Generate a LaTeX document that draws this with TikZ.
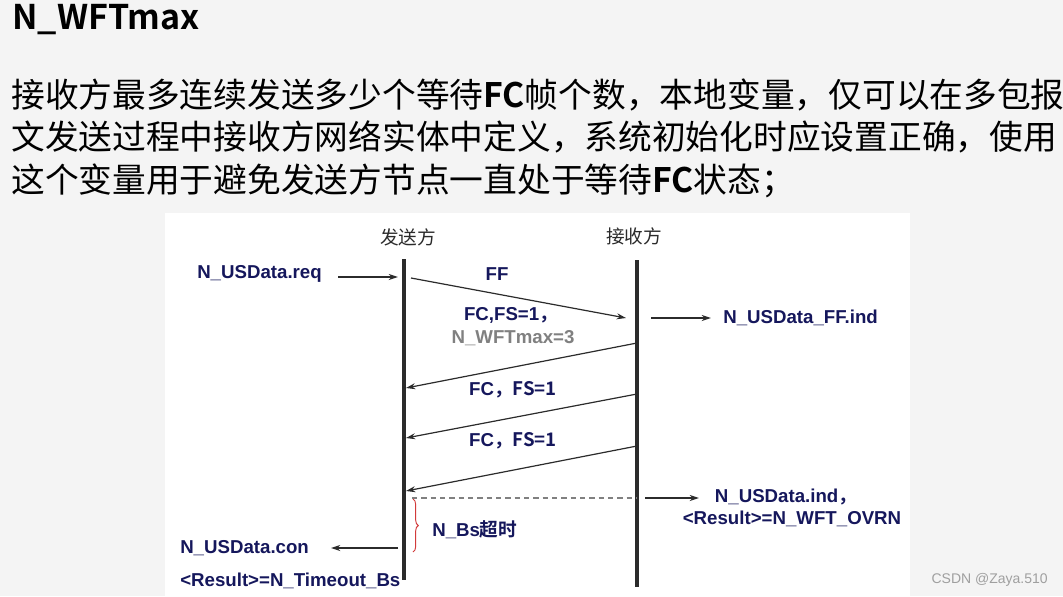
\documentclass[tikz,border=0pt]{standalone}
\usepackage{fontspec}
\setmainfont{Liberation Sans}
\newfontfamily\cjk{Noto Sans CJK SC}[BoldFont={Noto Sans CJK SC Bold}]
\usetikzlibrary{arrows.meta,decorations.pathreplacing}
\definecolor{navy}{HTML}{15175C}
\definecolor{ink}{HTML}{2B2B2B}
\definecolor{slide}{HTML}{F4F4F4}
\definecolor{mute}{HTML}{808080}
\definecolor{brace}{HTML}{D23A3A}

\begin{document}
\begin{tikzpicture}[x=0.75pt,y=-0.75pt,
  lbl/.style={font=\fontsize{14}{16}\selectfont\bfseries,text=navy,inner sep=0pt},
  role/.style={font=\cjk\fontsize{14}{16}\selectfont,text=ink,inner sep=0pt},
  body/.style={font=\cjk\fontsize{25.3}{30}\selectfont,text=black,anchor=base west,inner sep=0pt},
  life/.style={line width=3pt,draw=ink},
  arr/.style={-{Stealth[length=7pt,width=4.5pt]},line width=0.9pt,draw=ink},
  >=Stealth]
\useasboundingbox (0,0) rectangle (1063,596);
\fill[slide] (0,0) rectangle (1063,596);
\fill[white] (165,213) rectangle (910,596);
\node[font=\cjk\bfseries\fontsize{25.5}{30}\selectfont,anchor=west,inner sep=0pt] (title) at (12,20) {N\_WFTmax};
\node[body] (line1) at (11,107) {接收方最多连续发送多少个等待\textbf{FC}帧个数，本地变量，仅可以在多包报};
\node[body] (line2) at (11,149) {文发送过程中接收方网络实体中定义，系统初始化时应设置正确，使用};
\node[body] (line3) at (11,192) {这个变量用于避免发送方节点一直处于等待\textbf{FC}状态；};
\node[role] (sndr) at (408,237) {发送方};
\node[role] (rcvr) at (634,236) {接收方};
\coordinate (sTop) at (404,259);
\coordinate (sBot) at (404,580);
\coordinate (rTop) at (637,260);
\coordinate (rBot) at (637,587);
\draw[life] (sTop) -- (sBot);
\draw[life] (rTop) -- (rBot);
\node[lbl,anchor=west] (req) at (197,274) {N\_USData.req};
\coordinate (reqOut) at (338,277);
\coordinate (reqIn) at (398,277);
\draw[arr] (reqOut) -- (reqIn);
\coordinate (ffOut) at (411,278);
\coordinate (ffIn) at (626,318);
\draw[arr] (ffOut) -- (ffIn);
\node[lbl] (ff) at (497,274) {FF};
\node[lbl] (fcwft) at (511,315) {FC,FS=1\cjk{，}};
\node[lbl,text=mute] (wft) at (513,338) {N\_WFTmax=3};
\node[lbl,anchor=west] (ffind) at (723,318) {N\_USData\_FF.ind};
\coordinate (ffindOut) at (651,318);
\coordinate (ffindIn) at (711,318);
\draw[arr] (ffindOut) -- (ffindIn);
\foreach \ya/\yb [count=\i] in {343/388,394/438,446/491}
  \draw[arr] (637,\ya) coordinate (fcOut\i) -- (406,\yb) coordinate (fcIn\i);
\node[lbl] (fc1) at (513,390) {FC\cjk{，}FS=1};
\node[lbl] (fc2) at (513,441) {FC\cjk{，}FS=1};
\coordinate (wait) at (412,498);
\coordinate (waitEnd) at (637,498);
\draw[dashed,draw=mute,line width=0.8pt,dash pattern=on 4pt off 3pt] (wait) -- (waitEnd);
\node[lbl] (ind) at (786,497) {N\_USData.ind\cjk{，}};
\node[lbl] (ovrn) at (792,519) {<Result>=N\_WFT\_OVRN};
\coordinate (indOut) at (645,498);
\coordinate (indIn) at (699,498);
\draw[arr] (indOut) -- (indIn);
\draw[brace,line width=0.7pt,decorate,decoration={brace,amplitude=4pt}] (413,499) coordinate (bsTop) -- (413,552) coordinate (bsBot);
\node[lbl,anchor=west] (bs) at (432,530) {N\_Bs\cjk{超时}};
\node[lbl,anchor=west] (con) at (180,548) {N\_USData.con};
\coordinate (conOut) at (398,548);
\coordinate (conIn) at (331,548);
\draw[arr] (conOut) -- (conIn);
\node[lbl,anchor=west] (tmo) at (180,581) {<Result>=N\_Timeout\_Bs};
\node[font=\fontsize{10.5}{12}\selectfont,text=gray!75,anchor=east,inner sep=0pt] (mark) at (1048,580) {CSDN @Zaya.510};
\end{tikzpicture}
\end{document}
